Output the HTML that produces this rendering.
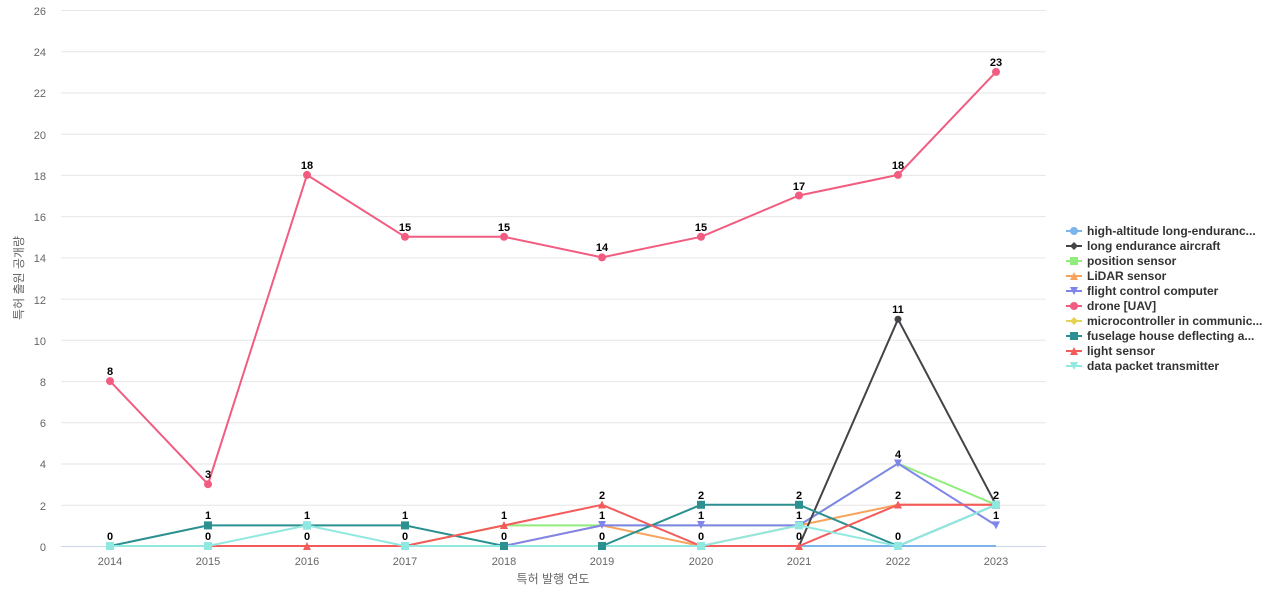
<!DOCTYPE html>
<html><head><meta charset="utf-8"><style>
body{margin:0;background:#fff;width:1280px;height:600px;overflow:hidden;font-family:"Liberation Sans","Noto Sans CJK KR",sans-serif}
svg text{font-family:"Liberation Sans","Noto Sans CJK KR",sans-serif}
</style></head><body>
<svg width="1280" height="600" xmlns="http://www.w3.org/2000/svg">
<g stroke="#e6e6e6" stroke-width="1">
<line x1="61" x2="1046" y1="10.5" y2="10.5"/><line x1="61" x2="1046" y1="51.7" y2="51.7"/><line x1="61" x2="1046" y1="93" y2="93"/><line x1="61" x2="1046" y1="134.2" y2="134.2"/><line x1="61" x2="1046" y1="175.4" y2="175.4"/><line x1="61" x2="1046" y1="216.6" y2="216.6"/><line x1="61" x2="1046" y1="257.9" y2="257.9"/><line x1="61" x2="1046" y1="299.1" y2="299.1"/><line x1="61" x2="1046" y1="340.3" y2="340.3"/><line x1="61" x2="1046" y1="381.6" y2="381.6"/><line x1="61" x2="1046" y1="422.8" y2="422.8"/><line x1="61" x2="1046" y1="464" y2="464"/><line x1="61" x2="1046" y1="505.2" y2="505.2"/>
</g>
<line x1="61" x2="1046" y1="546.5" y2="546.5" stroke="#ccd6eb"/>
<g font-size="11" fill="#666" text-anchor="end">
<text x="46" y="15">26</text><text x="46" y="56">24</text><text x="46" y="97">22</text><text x="46" y="139">20</text><text x="46" y="180">18</text><text x="46" y="221">16</text><text x="46" y="262">14</text><text x="46" y="304">12</text><text x="46" y="345">10</text><text x="46" y="386">8</text><text x="46" y="427">6</text><text x="46" y="468">4</text><text x="46" y="510">2</text><text x="46" y="551">0</text>
</g>
<g font-size="11" fill="#666" text-anchor="middle">
<text x="110" y="565">2014</text><text x="208" y="565">2015</text><text x="307" y="565">2016</text><text x="405" y="565">2017</text><text x="504" y="565">2018</text><text x="602" y="565">2019</text><text x="701" y="565">2020</text><text x="799" y="565">2021</text><text x="898" y="565">2022</text><text x="996" y="565">2023</text>
</g>
<text x="553" y="583" font-size="12" fill="#666" text-anchor="middle">특허 발행 연도</text>
<text transform="translate(23,278) rotate(-90)" font-size="12" fill="#666" text-anchor="middle">특허 출원 공개량</text>
<g fill="none" stroke-width="2">
<polyline stroke="#e4d354" points="110,546 208,546 307,546 405,546 504,546 602,546 701,546 799,546 898,546 996,546"/>
<polyline stroke="#7cb5ec" points="110,546 208,546 307,546 405,546 504,546 602,546 701,546 799,546 898,546 996,546"/>
<polyline stroke="#90ed7d" points="110,546 208,546 307,546 405,546 504,525.4 602,525.4 701,525.4 799,525.4 898,463.5 996,504.8"/>
<polyline stroke="#f7a35c" points="110,546 208,546 307,546 405,546 504,546 602,525.4 701,546 799,525.4 898,504.8 996,504.8"/>
<polyline stroke="#8085e9" points="110,546 208,546 307,546 405,546 504,546 602,525.4 701,525.4 799,525.4 898,463.5 996,525.4"/>
<polyline stroke="#f15c80" points="110,381.1 208,484.2 307,174.9 405,236.8 504,236.8 602,257.4 701,236.8 799,195.5 898,174.9 996,71.9"/>
<polyline stroke="#434348" points="110,546 208,546 307,546 405,546 504,546 602,546 701,546 799,546 898,319.2 996,504.8"/>
<polyline stroke="#2b908f" points="110,546 208,525.4 307,525.4 405,525.4 504,546 602,546 701,504.8 799,504.8 898,546 996,504.8"/>
<polyline stroke="#f45b5b" points="110,546 208,546 307,546 405,546 504,525.4 602,504.8 701,546 799,546 898,504.8 996,504.8"/>
<polyline stroke="#91e8e1" points="110,546 208,546 307,525.4 405,546 504,546 602,546 701,546 799,525.4 898,546 996,504.8"/>
</g>
<g fill="#f15c80">
<circle cx="110" cy="381.1" r="4"/><circle cx="208" cy="484.2" r="4"/><circle cx="307" cy="174.9" r="4"/><circle cx="405" cy="236.8" r="4"/><circle cx="504" cy="236.8" r="4"/><circle cx="602" cy="257.4" r="4"/><circle cx="701" cy="236.8" r="4"/><circle cx="799" cy="195.5" r="4"/><circle cx="898" cy="174.9" r="4"/><circle cx="996" cy="71.9" r="4"/>
</g>
<g fill="#2b908f">
<rect x="106" y="542" width="8" height="8"/><rect x="204" y="521.4" width="8" height="8"/><rect x="303" y="521.4" width="8" height="8"/><rect x="401" y="521.4" width="8" height="8"/><rect x="500" y="542" width="8" height="8"/><rect x="598" y="542" width="8" height="8"/><rect x="697" y="500.8" width="8" height="8"/><rect x="795" y="500.8" width="8" height="8"/><rect x="894" y="542" width="8" height="8"/><rect x="992" y="500.8" width="8" height="8"/>
</g>
<g fill="#f45b5b">
<path d="M504 521 l4 8 h-8z M602 500.5 l4 8 h-8z M898 500.5 l4 8 h-8z M996 500.5 l4 8 h-8z M307 542 l4 8 h-8z M799 542 l4 8 h-8z"/>
</g>
<g fill="#8085e9">
<path d="M598 521 h8 l-4 8z M697 521 h8 l-4 8z M795 521 h8 l-4 8z M894 459.5 h8 l-4 8z M992 521.4 h8 l-4 8z"/>
</g>
<g fill="#91e8e1">
<rect x="303" y="521.4" width="8" height="8"/><rect x="795" y="521.4" width="8" height="8"/><rect x="992" y="500.8" width="8" height="8"/><rect x="106" y="542" width="8" height="8"/><rect x="204" y="542" width="8" height="8"/><rect x="401" y="542" width="8" height="8"/><rect x="697" y="542" width="8" height="8"/><rect x="894" y="542" width="8" height="8"/>
</g>
<circle cx="898" cy="319.2" r="3.5" fill="#434348"/>
<g font-size="11" font-weight="bold" fill="#000" text-anchor="middle">
<text x="110" y="375">8</text><text x="110" y="540">0</text>
<text x="208" y="478">3</text><text x="208" y="519">1</text><text x="208" y="540">0</text>
<text x="307" y="169">18</text><text x="307" y="519">1</text><text x="307" y="540">0</text>
<text x="405" y="231">15</text><text x="405" y="519">1</text><text x="405" y="540">0</text>
<text x="504" y="231">15</text><text x="504" y="519">1</text><text x="504" y="540">0</text>
<text x="602" y="251">14</text><text x="602" y="499">2</text><text x="602" y="519">1</text><text x="602" y="540">0</text>
<text x="701" y="231">15</text><text x="701" y="499">2</text><text x="701" y="519">1</text><text x="701" y="540">0</text>
<text x="799" y="190">17</text><text x="799" y="499">2</text><text x="799" y="519">1</text><text x="799" y="540">0</text>
<text x="898" y="169">18</text><text x="898" y="313">11</text><text x="898" y="458">4</text><text x="898" y="499">2</text><text x="898" y="540">0</text>
<text x="996" y="66">23</text><text x="996" y="499">2</text><text x="996" y="519">1</text>
</g>
<g font-size="12" font-weight="bold" fill="#333">
<line x1="1066" x2="1082" y1="231" y2="231" stroke="#7cb5ec" stroke-width="2"/><circle cx="1074" cy="231" r="4" fill="#7cb5ec"/><text x="1087" y="235">high-altitude long-enduranc...</text>
<line x1="1066" x2="1082" y1="246" y2="246" stroke="#434348" stroke-width="2"/><path d="M1074 242 l4 4 -4 4 -4 -4z" fill="#434348"/><text x="1087" y="250">long endurance aircraft</text>
<line x1="1066" x2="1082" y1="261" y2="261" stroke="#90ed7d" stroke-width="2"/><rect x="1070" y="257" width="8" height="8" fill="#90ed7d"/><text x="1087" y="265">position sensor</text>
<line x1="1066" x2="1082" y1="276" y2="276" stroke="#f7a35c" stroke-width="2"/><path d="M1074 272 l4 8 h-8z" fill="#f7a35c"/><text x="1087" y="280">LiDAR sensor</text>
<line x1="1066" x2="1082" y1="291" y2="291" stroke="#8085e9" stroke-width="2"/><path d="M1070 287 h8 l-4 8z" fill="#8085e9"/><text x="1087" y="295">flight control computer</text>
<line x1="1066" x2="1082" y1="306" y2="306" stroke="#f15c80" stroke-width="2"/><circle cx="1074" cy="306" r="4" fill="#f15c80"/><text x="1087" y="310">drone [UAV]</text>
<line x1="1066" x2="1082" y1="321" y2="321" stroke="#e4d354" stroke-width="2"/><path d="M1074 317 l4 4 -4 4 -4 -4z" fill="#e4d354"/><text x="1087" y="325">microcontroller in communic...</text>
<line x1="1066" x2="1082" y1="336" y2="336" stroke="#2b908f" stroke-width="2"/><rect x="1070" y="332" width="8" height="8" fill="#2b908f"/><text x="1087" y="340">fuselage house deflecting a...</text>
<line x1="1066" x2="1082" y1="351" y2="351" stroke="#f45b5b" stroke-width="2"/><path d="M1074 347 l4 8 h-8z" fill="#f45b5b"/><text x="1087" y="355">light sensor</text>
<line x1="1066" x2="1082" y1="366" y2="366" stroke="#91e8e1" stroke-width="2"/><path d="M1070 362 h8 l-4 8z" fill="#91e8e1"/><text x="1087" y="370">data packet transmitter</text>
</g>
</svg>
</body></html>
